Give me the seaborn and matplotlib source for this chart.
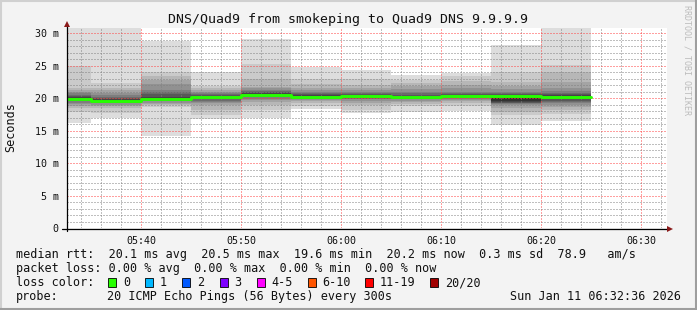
import numpy as np
import pandas as pd
import matplotlib
matplotlib.use("Agg")
import matplotlib.pyplot as plt
from matplotlib.lines import Line2D
from matplotlib.patches import Rectangle
from matplotlib.ticker import MultipleLocator
import seaborn as sns

# ---------------- data ----------------
title = "DNS/Quad9 from smokeping to Quad9 DNS 9.9.9.9"
view_start = "05:32:36"
view_end = "06:32:36"
block_starts = ["05:32:36", "05:35", "05:40", "05:45", "05:50", "05:55",
                "06:00", "06:05", "06:10", "06:15", "06:20"]
last_block_end = "06:25"
x_tick_labels = ["05:40", "05:50", "06:00", "06:10", "06:20", "06:30"]
y_ticks = [0, 5, 10, 15, 20, 25, 30]
y_tick_labels = ["0", "5 m", "10 m", "15 m", "20 m", "25 m", "30 m"]
y_top = 30.77

median_ms = [19.9, 19.6, 19.9, 20.1, 20.5, 20.2, 20.3, 20.15, 20.3, 20.3, 20.2]

pings_b01 = [16.2, 17.9, 18.5, 18.8, 19.1, 19.3, 19.5, 19.7, 19.8, 19.9, 19.9, 20.1, 20.3, 20.5, 20.8, 21.0, 21.2, 21.5, 25.0, 30.7]
pings_b02 = [17.0, 17.7, 18.4, 18.7, 19.0, 19.2, 19.3, 19.4, 19.5, 19.6, 19.6, 19.8, 20.0, 20.2, 20.5, 20.8, 21.2, 21.5, 22.3, 30.7]
pings_b03 = [14.2, 18.6, 18.9, 19.1, 19.3, 19.5, 19.6, 19.7, 19.8, 19.9, 19.9, 20.2, 20.6, 21.0, 21.3, 22.2, 22.7, 23.4, 24.0, 28.8]
pings_b04 = [16.7, 17.4, 18.2, 18.9, 19.2, 19.4, 19.6, 19.8, 19.9, 20.0, 20.1, 20.2, 20.4, 20.6, 20.8, 21.0, 21.2, 21.5, 21.8, 24.0]
pings_b05 = [17.0, 18.2, 18.9, 19.4, 19.7, 19.9, 20.1, 20.2, 20.4, 20.5, 20.5, 20.7, 20.9, 21.1, 21.2, 21.5, 21.7, 23.0, 25.3, 29.1]
pings_b06 = [18.3, 18.7, 19.2, 19.5, 19.7, 19.8, 19.9, 20.0, 20.1, 20.2, 20.2, 20.4, 20.6, 20.8, 21.0, 21.3, 21.5, 22.1, 23.0, 24.7]
pings_b07 = [17.7, 18.2, 18.9, 19.3, 19.6, 19.8, 19.9, 20.0, 20.1, 20.2, 20.3, 20.4, 20.6, 20.8, 21.0, 21.2, 21.5, 22.0, 23.0, 24.3]
pings_b08 = [17.9, 18.7, 19.1, 19.4, 19.6, 19.8, 19.9, 20.0, 20.1, 20.1, 20.2, 20.3, 20.5, 20.7, 21.0, 21.4, 21.8, 22.3, 22.8, 23.5]
pings_b09 = [18.0, 18.8, 19.2, 19.5, 19.7, 19.9, 20.0, 20.1, 20.2, 20.3, 20.3, 20.4, 20.6, 20.8, 21.0, 21.5, 22.0, 22.6, 23.4, 23.9]
pings_b10 = [15.8, 17.4, 17.9, 18.4, 18.9, 19.1, 19.2, 19.3, 19.4, 19.6, 20.4, 20.5, 20.6, 20.7, 21.0, 21.4, 21.8, 22.4, 24.0, 28.2]
pings_b11 = [16.4, 17.6, 18.2, 18.6, 19.0, 19.2, 19.4, 19.6, 19.8, 20.0, 20.2, 20.4, 20.6, 20.8, 21.1, 21.5, 22.5, 24.0, 25.1, 30.7]

legend_median = "median rtt:  20.1 ms avg  20.5 ms max  19.6 ms min  20.2 ms now  0.3 ms sd  78.9   am/s"
legend_loss = "packet loss: 0.00 % avg  0.00 % max  0.00 % min  0.00 % now"
loss_labels = ["0", "1", "2", "3", "4-5", "6-10", "11-19", "20/20"]
loss_colors = ["#26ff00", "#00b8ff", "#0059ff", "#7e00ff", "#ff00ff", "#ff5500", "#ff0000", "#a10000"]
probe_text = "20 ICMP Echo Pings (56 Bytes) every 300s"
stamp_text = "Sun Jan 11 06:32:36 2026"
watermark = "RRDTOOL / TOBI OETIKER"

# ---------------- helpers ----------------
def to_min(t):
    parts = [int(p) for p in t.split(":")]
    h, m = parts[0], parts[1]
    s = parts[2] if len(parts) > 2 else 0
    return h * 60 + m + s / 60.0 - 300.0

W, H = 697, 310
def fx(x):
    return x / W
def fy(y):
    return 1 - y / H

sns.set_style("white")
plt.rcParams["font.family"] = ["DejaVu Sans Mono", "DejaVu Sans"]

BG = "#f3f3f3"
fig = plt.figure(figsize=(W / 100, H / 100), dpi=100, facecolor=BG)

ax_l, ax_r, ax_t, ax_b = 67, 667, 28, 228
ax = fig.add_axes([fx(ax_l), fy(ax_b), (ax_r - ax_l) / W, (ax_b - ax_t) / H])
ax.set_facecolor("white")

edges = [to_min(s) for s in block_starts] + [to_min(last_block_end)]
P = np.array([sorted(p) for p in [pings_b01, pings_b02, pings_b03, pings_b04, pings_b05,
                                   pings_b06, pings_b07, pings_b08, pings_b09, pings_b10,
                                   pings_b11]])
n = P.shape[1]
half = n // 2
for k in range(half):
    lo = P[:, k]
    hi = P[:, n - 1 - k]
    g = int(190 / half * (half - (k + 1))) + 50
    ax.fill_between(edges, np.append(lo, lo[-1]), np.append(hi, hi[-1]),
                    step="post", color=(g / 255,) * 3, lw=0, zorder=1)

df = pd.DataFrame({"t": edges, "median": median_ms + [median_ms[-1]]})
sns.lineplot(data=df, x="t", y="median", ax=ax, drawstyle="steps-post",
             color="#26ff00", lw=2.1, zorder=3, legend=False)

ax.set_xlim(to_min(view_start), to_min(view_end))
ax.set_ylim(0, y_top)
ax.set_xticks([to_min(t) for t in x_tick_labels])
ax.set_xticklabels(x_tick_labels)
ax.xaxis.set_minor_locator(MultipleLocator(2))
ax.set_yticks(y_ticks)
ax.set_yticklabels(y_tick_labels)
ax.yaxis.set_minor_locator(MultipleLocator(1))
ax.set_xlabel("")
ax.set_ylabel("")

ax.set_axisbelow(False)
ax.grid(which="major", color=(1, 0.25, 0.25, 0.40), ls=(0, (1, 2)), lw=0.72)
ax.grid(which="minor", color=(0.5, 0.5, 0.5, 0.28), ls=(0, (1, 2)), lw=0.72)
ax.tick_params(which="major", direction="out", length=2, width=0.7, color="#d04040",
               labelsize=7.2, pad=4, labelcolor="#111111")
ax.tick_params(which="minor", direction="out", length=1.5, width=0.6, color="#bbbbbb")
for s in ax.spines.values():
    s.set_visible(False)

# axis lines + arrows
axis_col = "#000000"
arrow_col = "#8b1a1a"
fig.add_artist(Line2D([fx(62), fx(668)], [fy(228.5), fy(228.5)], color=axis_col, lw=0.9))
fig.add_artist(Line2D([fx(67), fx(67)], [fy(231), fy(25)], color=axis_col, lw=0.9))
fig.add_artist(Line2D([fx(670)], [fy(228.5)], marker=">", color=arrow_col, ms=4.5, mew=0))
fig.add_artist(Line2D([fx(67)], [fy(24)], marker="^", color=arrow_col, ms=4.5, mew=0))

# texts
fig.text(fx(347.5), fy(19.5), title, ha="center", va="center", fontsize=9.5, color="#111111")
fig.text(fx(10.5), fy(127), "Seconds", rotation=90, ha="center", va="center", fontsize=8.5,
         color="#111111")
fig.text(fx(687.5), fy(60), watermark, rotation=270, ha="center", va="center", fontsize=6,
         color="#bcbcbc")

lfs = 8.5
tc = "#111111"
fig.text(fx(16), fy(254.5), legend_median, ha="left", va="center", fontsize=lfs, color=tc)
fig.text(fx(16), fy(268.5), legend_loss, ha="left", va="center", fontsize=lfs, color=tc)
fig.text(fx(16), fy(282.5), "loss color:", ha="left", va="center", fontsize=lfs, color=tc)
box_x = [108, 145.3, 182.2, 219.6, 256.9, 307.6, 365.3, 430.2]
lab_x = [123.6, 160, 196.9, 234.2, 271.1, 321.8, 380, 445.3]
for bx, lx, lab, col in zip(box_x, lab_x, loss_labels, loss_colors):
    fig.add_artist(Rectangle((fx(bx), fy(287)), 8 / W, 9 / H, facecolor=col,
                             edgecolor="#000000", lw=0.6))
    fig.text(fx(lx), fy(282.5), lab, ha="left", va="center", fontsize=lfs, color=tc)
fig.text(fx(16), fy(296.5), "probe:", ha="left", va="center", fontsize=lfs, color=tc)
fig.text(fx(107), fy(296.5), probe_text, ha="left", va="center", fontsize=lfs, color=tc)
fig.text(fx(681), fy(296.5), stamp_text, ha="right", va="center", fontsize=lfs, color=tc)

# 3D-style frame
fig.add_artist(Line2D([0, 1], [fy(0.75), fy(0.75)], color="#d0d0d0", lw=1.5))
fig.add_artist(Line2D([fx(0.75), fx(0.75)], [0, 1], color="#d0d0d0", lw=1.5))
fig.add_artist(Line2D([0, 1], [fy(309), fy(309)], color="#9e9e9e", lw=1.5))
fig.add_artist(Line2D([fx(696), fx(696)], [0, 1], color="#9e9e9e", lw=1.5))

fig.savefig("out.png", dpi=100, facecolor=BG)
